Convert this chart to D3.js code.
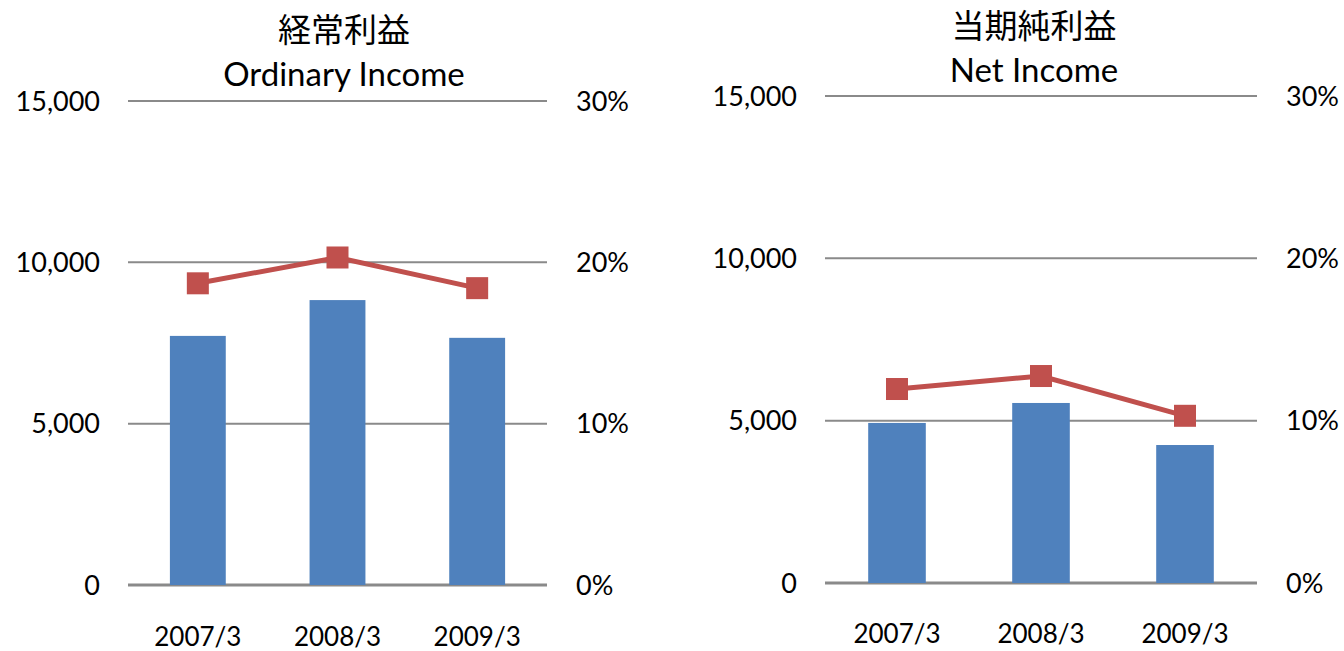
<!DOCTYPE html>
<html>
<head>
<meta charset="utf-8">
<script src="https://cdn.jsdelivr.net/npm/d3@7"></script>
<style>
  body { margin: 0; background: #fff; }
  svg text { font-family: Lato, "Liberation Sans", sans-serif; fill: #000; }
  .cjk { font-family: "Noto Sans CJK JP", sans-serif; }
</style>
</head>
<body>
<div id="chart"></div>
<script>
  const width = 1344, height = 651;

  // data
  const categories = ["2007/3", "2008/3", "2009/3"];
  const ordinaryIncome = [7720, 8830, 7660];      // bars, left axis
  const ordinaryMargin = [18.7, 20.3, 18.4];      // line, right axis (%)
  const netIncome = [4930, 5545, 4250];
  const netMargin = [11.95, 12.75, 10.3];
  const amountTicks = [0, 5000, 10000, 15000];
  const percentTicks = [0, 10, 20, 30];

  const svg = d3.select("#chart").append("svg")
    .attr("width", width)
    .attr("height", height);

  function drawPanel(opt) {
    const g = svg.append("g");

    const x = d3.scaleBand()
      .domain(categories)
      .range([opt.left, opt.right])
      .paddingInner(0.6)
      .paddingOuter(0.3);

    const y = d3.scaleLinear().domain([0, 15000]).range([opt.bottom, opt.top]);
    const y2 = d3.scaleLinear().domain([0, 30]).range([opt.bottom, opt.top]);

    // gridlines
    g.selectAll(".grid")
      .data(amountTicks)
      .enter().append("line")
      .attr("x1", opt.left)
      .attr("x2", opt.right)
      .attr("y1", d => y(d))
      .attr("y2", d => y(d))
      .attr("stroke", "#8a8a8a")
      .attr("stroke-width", d => d === 0 ? 3 : 2);

    // left axis labels
    g.selectAll(".ylab")
      .data(amountTicks)
      .enter().append("text")
      .attr("x", opt.left - 28)
      .attr("y", d => y(d))
      .attr("dy", "0.36em")
      .attr("text-anchor", "end")
      .style("font-size", "27px")
      .text(d => d3.format(",")(d));

    // right axis labels
    g.selectAll(".y2lab")
      .data(percentTicks)
      .enter().append("text")
      .attr("x", opt.right + 29)
      .attr("y", d => y2(d))
      .attr("dy", "0.36em")
      .attr("text-anchor", "start")
      .style("font-size", "27px")
      .text(d => d + "%");

    // bars
    g.selectAll(".bar")
      .data(opt.bars)
      .enter().append("rect")
      .attr("x", (d, i) => x(categories[i]))
      .attr("width", x.bandwidth())
      .attr("y", d => y(d))
      .attr("height", d => y(0) - y(d))
      .attr("fill", "#4f81bd");

    // margin line
    const line = d3.line()
      .x((d, i) => x(categories[i]) + x.bandwidth() / 2)
      .y(d => y2(d));

    g.append("path")
      .datum(opt.line)
      .attr("d", line)
      .attr("fill", "none")
      .attr("stroke", "#c0504d")
      .attr("stroke-width", 5);

    g.selectAll(".marker")
      .data(opt.line)
      .enter().append("rect")
      .attr("x", (d, i) => x(categories[i]) + x.bandwidth() / 2 - 11)
      .attr("y", d => y2(d) - 11)
      .attr("width", 22)
      .attr("height", 22)
      .attr("fill", "#c0504d");

    // category labels
    g.selectAll(".xlab")
      .data(categories)
      .enter().append("text")
      .attr("x", d => x(d) + x.bandwidth() / 2)
      .attr("y", opt.xLabelY)
      .attr("text-anchor", "middle")
      .style("font-size", "26px")
      .text(d => d);

    // titles
    g.append("text")
      .attr("class", "cjk")
      .attr("x", opt.titleX)
      .attr("y", opt.titleY)
      .attr("text-anchor", "middle")
      .style("font-size", "33px")
      .text(opt.titleJa);

    g.append("text")
      .attr("x", opt.titleX)
      .attr("y", opt.titleY + 44)
      .attr("text-anchor", "middle")
      .style("font-size", "33px")
      .text(opt.titleEn);
  }

  drawPanel({
    left: 128, right: 547, top: 101, bottom: 585,
    bars: ordinaryIncome, line: ordinaryMargin,
    titleJa: "経常利益", titleEn: "Ordinary Income",
    titleX: 344, titleY: 42, xLabelY: 646
  });

  drawPanel({
    left: 825, right: 1257, top: 96, bottom: 583,
    bars: netIncome, line: netMargin,
    titleJa: "当期純利益", titleEn: "Net Income",
    titleX: 1034, titleY: 38, xLabelY: 643
  });
</script>
</body>
</html>
